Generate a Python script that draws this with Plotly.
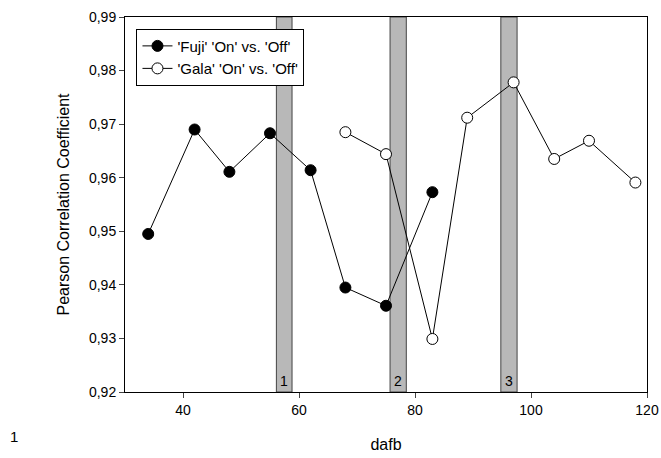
import plotly.graph_objects as go

# Data
fuji_x = [34, 42, 48, 55, 62, 68, 75, 83]
fuji_y = [0.9495, 0.9690, 0.9611, 0.9683, 0.9614, 0.9395, 0.9361, 0.9573]
gala_x = [68, 75, 83, 89, 97, 104, 110, 118]
gala_y = [0.9685, 0.9644, 0.9299, 0.9712, 0.9778, 0.9635, 0.9669, 0.9591]
band_start = [56.1, 75.7, 94.8]
band_end = [58.8, 78.5, 97.6]
band_labels = ["1", "2", "3"]
x_ticks = [40, 60, 80, 100, 120]
y_ticks = [0.92, 0.93, 0.94, 0.95, 0.96, 0.97, 0.98, 0.99]

FONT = "Liberation Sans, Arial, sans-serif"

fig = go.Figure()
fig.add_trace(go.Scatter(
    x=fuji_x, y=fuji_y, mode="lines+markers",
    name="'Fuji' 'On' vs. 'Off'",
    line=dict(color="black", width=1),
    marker=dict(symbol="circle", size=11, color="black", line=dict(color="black", width=1)),
))
fig.add_trace(go.Scatter(
    x=gala_x, y=gala_y, mode="lines+markers",
    name="'Gala' 'On' vs. 'Off'",
    line=dict(color="black", width=1),
    marker=dict(symbol="circle", size=11, color="white", line=dict(color="black", width=1)),
))

shapes = []
annotations = []
for s, e, lab in zip(band_start, band_end, band_labels):
    shapes.append(dict(type="rect", xref="x", yref="paper", x0=s, x1=e, y0=0, y1=1,
                       fillcolor="#b8b8b8", line=dict(color="#444444", width=1), layer="below"))
    annotations.append(dict(x=(s + e) / 2, y=0, xref="x", yref="paper", text=lab,
                            showarrow=False, yanchor="bottom", yshift=1,
                            font=dict(family=FONT, size=14, color="black")))
annotations.append(dict(x=-0.213, y=-0.119, xref="paper", yref="paper", text="1",
                        showarrow=False, xanchor="center", yanchor="middle",
                        font=dict(family=FONT, size=15, color="black")))

fig.update_layout(
    width=661, height=458,
    margin=dict(l=125, r=14, t=17, b=66, autoexpand=False),
    paper_bgcolor="white", plot_bgcolor="white",
    separators=",.",
    font=dict(family=FONT, size=14, color="black"),
    shapes=shapes, annotations=annotations,
    showlegend=True,
    legend=dict(x=0.022, y=0.969, xanchor="left", yanchor="top",
                bordercolor="black", borderwidth=1, bgcolor="white",
                font=dict(family=FONT, size=15, color="black"), tracegroupgap=0,
                itemwidth=30),
    xaxis=dict(range=[30, 120], tickvals=x_ticks, ticks="outside", ticklen=5,
               showline=True, linecolor="black", linewidth=1, mirror=True,
               showgrid=False, zeroline=False,
               title=dict(text="dafb", font=dict(family=FONT, size=16, color="black"), standoff=22),
               tickfont=dict(family=FONT, size=14, color="black")),
    yaxis=dict(range=[0.92, 0.99], tickvals=y_ticks, tickformat=".2f", ticks="outside", ticklen=5,
               showline=True, linecolor="black", linewidth=1, mirror=True,
               showgrid=False, zeroline=False,
               title=dict(text="Pearson Correlation Coefficient", font=dict(family=FONT, size=16, color="black"), standoff=15),
               tickfont=dict(family=FONT, size=14, color="black")),
)

fig.write_html("out.html", config={"displayModeBar": False},
               post_script="document.body.style.margin='0';document.body.style.overflow='hidden';")
